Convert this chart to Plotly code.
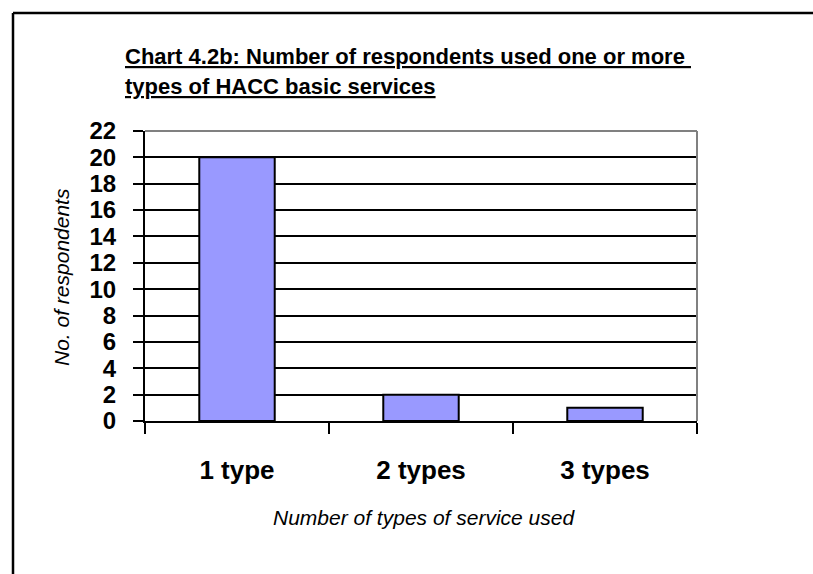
import plotly.graph_objects as go

# Data
categories = ["1 type", "2 types", "3 types"]
respondents = [20, 2, 1]
y_ticks = list(range(0, 23, 2))

title_line1 = "Chart 4.2b: Number of respondents used one or more "
title_line2 = "types of HACC basic services"
x_title = "Number of types of service used"
y_title = "No. of respondents"

W, H = 813, 574
L, R, T, B = 145, 116, 131, 153
PW, PH = W - L - R, H - T - B


def px_x(p):
    return (p - L) / PW


def px_y(p):
    return (H - B - p) / PH


FONT = "Liberation Sans, Arial, sans-serif"

fig = go.Figure(
    go.Bar(
        x=categories,
        y=respondents,
        marker=dict(color="#9999FF", line=dict(color="black", width=2)),
    )
)

fig.update_layout(
    width=W,
    height=H,
    margin=dict(l=L, r=R, t=T, b=B),
    paper_bgcolor="white",
    plot_bgcolor="white",
    bargap=0.59,
    showlegend=False,
    font=dict(family=FONT, color="black"),
)

fig.update_xaxes(
    type="category",
    tickson="boundaries",
    ticks="outside",
    ticklen=11,
    tickwidth=2,
    tickcolor="black",
    showline=True,
    linecolor="black",
    linewidth=2,
    showgrid=False,
    tickfont=dict(size=26, family=FONT, weight="bold"),
    ticklabelstandoff=25,
)

fig.update_yaxes(
    range=[0, 22],
    tickvals=y_ticks,
    ticks="outside",
    ticklen=10,
    tickwidth=2,
    tickcolor="black",
    showline=True,
    linecolor="black",
    linewidth=2,
    showgrid=True,
    gridcolor="black",
    gridwidth=1.5,
    zeroline=False,
    tickfont=dict(size=24, family=FONT, weight="bold"),
    ticklabelstandoff=12,
)

shapes = [
    # grey plot-area border on top and right
    dict(type="line", xref="paper", yref="paper", x0=0, x1=1, y0=1, y1=1,
         line=dict(color="#808080", width=2), layer="above"),
    dict(type="line", xref="paper", yref="paper", x0=1, x1=1, y0=0, y1=1,
         line=dict(color="#808080", width=2), layer="above"),
    # outer chart frame (top and left)
    dict(type="line", xref="paper", yref="paper", x0=px_x(13), x1=px_x(W + 5),
         y0=px_y(13), y1=px_y(13), line=dict(color="black", width=2.5)),
    dict(type="line", xref="paper", yref="paper", x0=px_x(13), x1=px_x(13),
         y0=px_y(13), y1=px_y(H + 5), line=dict(color="black", width=2.5)),
]

annotations = [
    dict(text="<b><u>" + title_line1 + "</u></b>", xref="paper", yref="paper",
         x=px_x(123), y=px_y(56), xanchor="left", yanchor="middle",
         showarrow=False, font=dict(size=22, family=FONT)),
    dict(text="<b><u>" + title_line2 + "</u></b>", xref="paper", yref="paper",
         x=px_x(123), y=px_y(87), xanchor="left", yanchor="middle",
         showarrow=False, font=dict(size=22, family=FONT)),
    dict(text="<i>" + x_title + "</i>", xref="paper", yref="paper",
         x=px_x(424), y=px_y(517), xanchor="center", yanchor="middle",
         showarrow=False, font=dict(size=21, family=FONT)),
    dict(text="<i>" + y_title + "</i>", xref="paper", yref="paper",
         x=px_x(61), y=px_y(277), xanchor="center", yanchor="middle",
         textangle=-90, showarrow=False, font=dict(size=21, family=FONT)),
]

fig.update_layout(shapes=shapes, annotations=annotations)

fig.write_html("out.html")
